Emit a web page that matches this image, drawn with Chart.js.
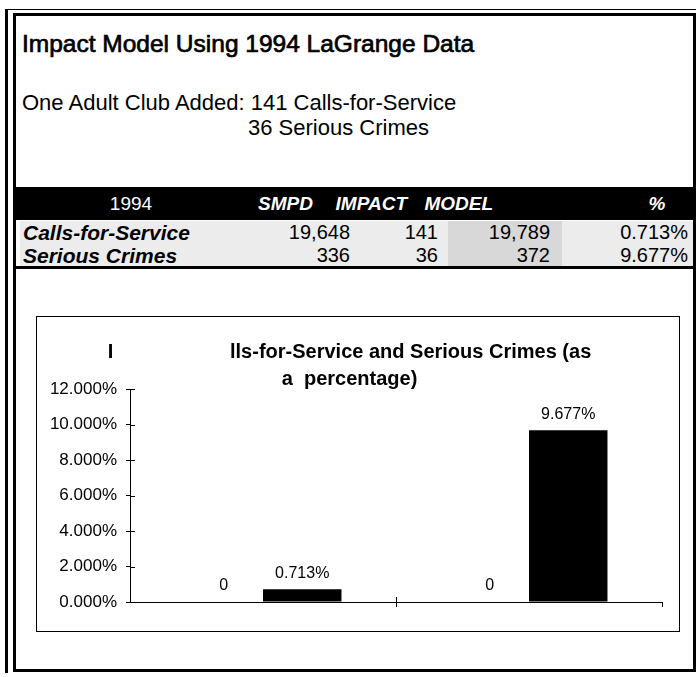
<!DOCTYPE html>
<html>
<head>
<meta charset="utf-8">
<script src="https://cdn.jsdelivr.net/npm/chart.js@4.4.1/dist/chart.umd.min.js"></script>
<style>
  body { margin: 0; width: 696px; height: 677px; background: #fff; position: relative; overflow: hidden;
         font-family: "Liberation Sans", Arial, sans-serif; color: #000; }
  .abs { position: absolute; white-space: nowrap; }
  #outerL { left: 5px; top: 9px; width: 3px; height: 664px; background: #000; }
  #outerT { left: 5px; top: 9px; width: 691px; height: 1px; background: #000; }
  #topBox { left: 13px; top: 13px; width: 677px; height: 174px; border: 3px solid #000; border-bottom: none; }
  #head { left: 13px; top: 187px; width: 683px; height: 33px; background: #000; color: #fff; }
  #rows { left: 13px; top: 220px; width: 677px; height: 46px; border: 3px solid #000; border-top: none;
          background: #fff; }
  #rowsBg { left: 4px; top: 1px; width: 673px; height: 45px; background: #ececec; }
  #modelBg { left: 428px; top: 0; width: 114px; height: 45px; background: #d8d8d8; }
  #lowBox { left: 13px; top: 269px; width: 677px; height: 400px; border: 3px solid #000; border-top: none; }
  #frame { left: 36px; top: 316px; width: 642px; height: 314px; border: 1px solid #000; }
  h1 { position: absolute; left: 22px; top: 30px; margin: 0; font-size: 24.5px; font-weight: normal;
       -webkit-text-stroke: 0.7px #000; }
  .sub { font-size: 22px; }
  .hd { font-size: 19px; line-height: 33px; top: 0; }
  .it { font-weight: bold; font-style: italic; }
  .cell { font-size: 20px; line-height: 23px; }
  .lab { font-size: 21px; }
</style>
</head>
<body>
<div class="abs" id="outerL"></div>
<div class="abs" id="outerT"></div>
<div class="abs" id="topBox"></div>
<h1>Impact Model Using 1994 LaGrange Data</h1>
<div class="abs sub" style="left:22px;top:90px">One Adult Club Added: 141 Calls-for-Service</div>
<div class="abs sub" style="left:248px;top:115px">36 Serious Crimes</div>
<div class="abs" id="head"></div>
<div class="abs" id="rows"><div class="abs" id="rowsBg"><div class="abs" id="modelBg"></div></div></div>
<div class="abs" id="lowBox"></div>
<div class="abs" id="frame"><canvas id="canvas1" width="642" height="314"></canvas></div>

<script>
const headers = ['1994', 'SMPD', 'IMPACT', 'MODEL', '%'];
const rowNames = ['Calls-for-Service', 'Serious Crimes'];
const smpd = [19648, 336];
const impact = [141, 36];
const model = [19789, 372];
const pct = [0.713, 9.677];
const baseline = [0, 0];
const yTicks = [0, 2, 4, 6, 8, 10, 12];

// table header and rows
const head = document.getElementById('head');
const headPos = [[131, 'center'], [313, 'right'], [407, 'right'], [493, 'right'], [657, 'center']];
headers.forEach(function (h, i) {
    const s = document.createElement('span');
    s.className = 'abs hd' + (i > 0 ? ' it' : '');
    s.textContent = h;
    const x = headPos[i][0] - 13;
    if (headPos[i][1] == 'right') s.style.right = (683 - x) + 'px';
    else { s.style.left = x + 'px'; s.style.transform = 'translateX(-50%)'; }
    head.appendChild(s);
});

const rows = document.getElementById('rows');
const numRight = [353, 441, 553, 691];
rowNames.forEach(function (name, r) {
    const top = 1 + r * 23;
    const lab = document.createElement('span');
    lab.className = 'abs cell lab it';
    lab.style.left = '7px';
    lab.style.top = top + 'px';
    lab.textContent = name;
    rows.appendChild(lab);
    const vals = [smpd[r].toLocaleString('en-US'), impact[r].toLocaleString('en-US'),
                  model[r].toLocaleString('en-US'), pct[r].toFixed(3) + '%'];
    vals.forEach(function (v, c) {
        const s = document.createElement('span');
        s.className = 'abs cell';
        s.style.right = (680 - (numRight[c] - 16)) + 'px';
        s.style.top = top + 'px';
        s.textContent = v;
        rows.appendChild(s);
    });
});

// chart
const barLabels = {
    id: 'barLabels',
    afterDatasetsDraw(chart) {
        const ctx = chart.ctx;
        ctx.save();
        ctx.font = '16px "Liberation Sans", Arial';
        ctx.fillStyle = '#000';
        ctx.textAlign = 'center';
        ctx.textBaseline = 'bottom';
        chart.data.datasets.forEach(function (ds, di) {
            chart.getDatasetMeta(di).data.forEach(function (bar, i) {
                const v = ds.data[i];
                ctx.fillText(v === 0 ? '0' : v.toFixed(3) + '%', bar.x, bar.y - 8);
            });
        });
        ctx.restore();
    }
};

const crossTicks = {
    id: 'crossTicks',
    afterDraw(chart) {
        const ctx = chart.ctx;
        const a = chart.chartArea;
        const xs = chart.scales.x;
        const ys = chart.scales.y;
        ctx.save();
        ctx.strokeStyle = '#000';
        ctx.lineWidth = 1;
        ctx.beginPath();
        yTicks.forEach(function (t) {
            const y = Math.round(ys.getPixelForValue(t)) + 0.5;
            ctx.moveTo(a.left, y);
            ctx.lineTo(a.left + 5, y);
        });
        const step = xs.width / rowNames.length;
        for (let i = 1; i <= rowNames.length; i++) {
            const x = Math.round(a.left + i * step) + 0.5;
            ctx.moveTo(x, a.bottom + 5);
            ctx.lineTo(x, i < rowNames.length ? a.bottom - 5 : a.bottom);
        }
        ctx.stroke();
        ctx.restore();
    }
};

const data = {
    labels: rowNames,
    datasets: [{
        label: 'SMPD',
        data: baseline,
        backgroundColor: '#000',
        categoryPercentage: 0.59,
        barPercentage: 1.0
    }, {
        label: '%',
        data: pct,
        backgroundColor: '#000',
        categoryPercentage: 0.59,
        barPercentage: 1.0
    }]
};

const config = {
    type: 'bar',
    data: data,
    options: {
        responsive: false,
        animation: false,
        layout: { padding: { left: 0, right: 17, top: 0, bottom: 21 } },
        plugins: {
            legend: { display: false },
            tooltip: { enabled: false },
            title: {
                display: true,
                text: ['I                     lls-for-Service and Serious Crimes (as', 'a  percentage)'],
                color: '#000',
                font: { family: '"Liberation Sans", Arial', size: 20, weight: 'bold', lineHeight: 1.35 },
                padding: { top: 22, bottom: -4 }
            }
        },
        scales: {
            x: {
                ticks: { display: false },
                grid: { display: false },
                border: { display: true, color: '#000', width: 1 }
            },
            y: {
                min: 0,
                max: 12,
                ticks: {
                    stepSize: 2,
                    color: '#000',
                    padding: 9,
                    font: { family: '"Liberation Sans", Arial', size: 17 },
                    callback: function (v) { return v.toFixed(3) + '%'; }
                },
                grid: { drawOnChartArea: false, drawTicks: true, tickLength: 4, color: '#000' },
                border: { display: true, color: '#000', width: 1 },
                afterFit: function (scale) { scale.width = 93; }
            }
        }
    },
    plugins: [barLabels, crossTicks]
};

const chart = new Chart(document.getElementById('canvas1'), config);
</script>
</body>
</html>
